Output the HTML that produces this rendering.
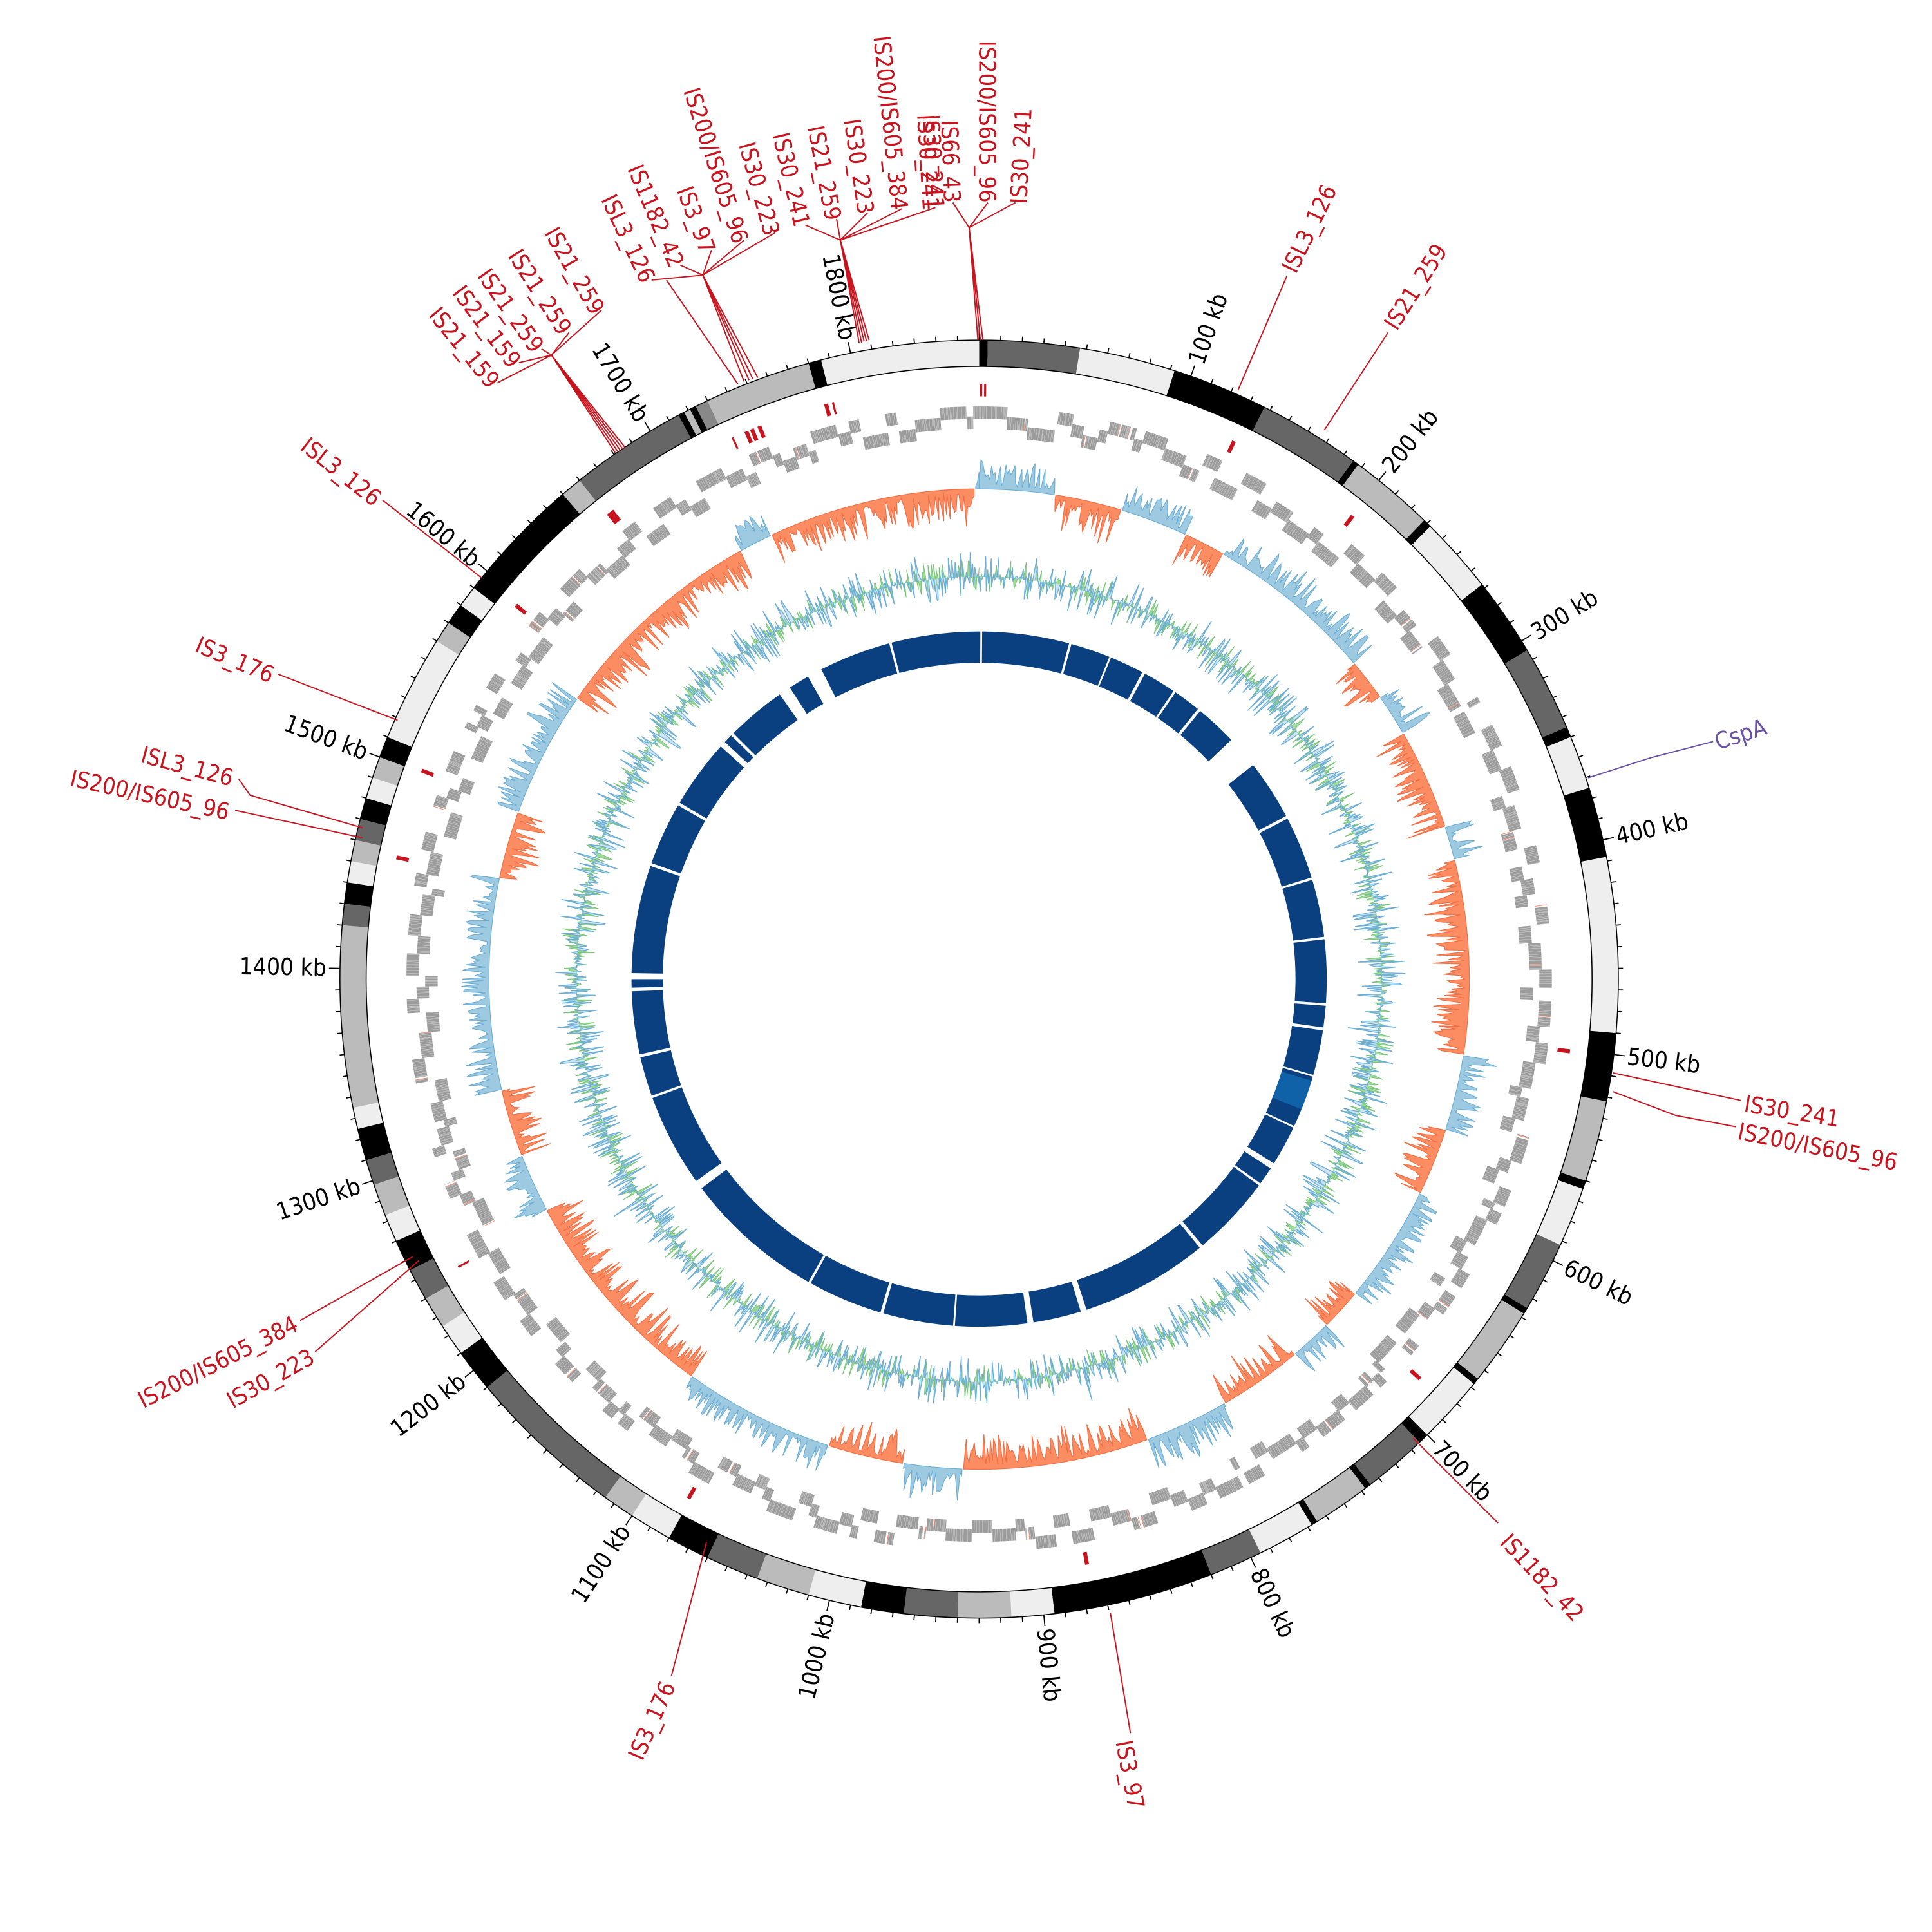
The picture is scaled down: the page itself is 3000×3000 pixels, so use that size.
<!DOCTYPE html>
<html><head><meta charset="utf-8"><style>
html,body{margin:0;padding:0;background:#fff}
svg{display:block}
.t{font-family:"DejaVu Sans Condensed","DejaVu Sans","Liberation Sans",sans-serif;font-size:19px;fill:#000}
.r{font-family:"DejaVu Sans Condensed","DejaVu Sans","Liberation Sans",sans-serif;font-size:18.5px;fill:#c8141e}
.p{font-family:"DejaVu Sans Condensed","DejaVu Sans","Liberation Sans",sans-serif;font-size:18.5px;fill:#6a51a3}
</style></head><body>
<svg id="s" width="3000" height="3000" viewBox="0 0 1545 1545" xmlns="http://www.w3.org/2000/svg">
<g id="tracks"></g>
<g class="t" dominant-baseline="central">
<text x="1305" y="783" transform="rotate(-70.6 783 783)">100 kb</text>
<text x="1305" y="783" transform="rotate(-51.3 783 783)">200 kb</text>
<text x="1305" y="783" transform="rotate(-31.9 783 783)">300 kb</text>
<text x="1305" y="783" transform="rotate(-12.6 783 783)">400 kb</text>
<text x="1305" y="783" transform="rotate(6.8 783 783)">500 kb</text>
<text x="1305" y="783" transform="rotate(26.1 783 783)">600 kb</text>
<text x="1305" y="783" transform="rotate(45.5 783 783)">700 kb</text>
<text x="1305" y="783" transform="rotate(64.8 783 783)">800 kb</text>
<text x="1305" y="783" transform="rotate(84.2 783 783)">900 kb</text>
<text x="261" y="783" text-anchor="end" transform="rotate(-76.5 783 783)">1000 kb</text>
<text x="261" y="783" text-anchor="end" transform="rotate(-57.1 783 783)">1100 kb</text>
<text x="261" y="783" text-anchor="end" transform="rotate(-37.7 783 783)">1200 kb</text>
<text x="261" y="783" text-anchor="end" transform="rotate(-18.4 783 783)">1300 kb</text>
<text x="261" y="783" text-anchor="end" transform="rotate(1.0 783 783)">1400 kb</text>
<text x="261" y="783" text-anchor="end" transform="rotate(20.3 783 783)">1500 kb</text>
<text x="261" y="783" text-anchor="end" transform="rotate(39.7 783 783)">1600 kb</text>
<text x="261" y="783" text-anchor="end" transform="rotate(59.0 783 783)">1700 kb</text>
<text x="261" y="783" text-anchor="end" transform="rotate(78.4 783 783)">1800 kb</text>
</g>
<g stroke="#c8141e" stroke-width="1" fill="none">
<polyline points="1029,221 990,312"/>
<polyline points="1110,266 1059,344"/>
<polyline points="1392,880 1290,858"/>
<polyline points="1388,901 1340,892 1290,873"/>
<polyline points="1198,1218 1130,1150"/>
<polyline points="904,1386 888,1290"/>
<polyline points="537,1340 565,1233"/>
<polyline points="240,1056 330,1005"/>
<polyline points="252,1081 335,1008"/>
<polyline points="188,648 290,670"/>
<polyline points="191,623 200,636 290,662"/>
<polyline points="222,539 318,576"/>
<polyline points="306,400 385,462"/>
<polyline points="398,306 441,284"/><polyline points="415,290 441,284"/><polyline points="433,279 441,284"/><polyline points="455,266 441,284"/><polyline points="481,248 441,284"/>
<polyline points="441,284 492,362"/><polyline points="441,284 494,361"/><polyline points="441,284 496,360"/><polyline points="441,284 498,359"/><polyline points="441,284 500,358"/>
<polyline points="521,224 562,220"/><polyline points="544,212 562,220"/><polyline points="569,200 562,220"/><polyline points="595,192 562,220"/><polyline points="620,186 562,220"/>
<polyline points="533,224 590,307"/><polyline points="562,220 595,305"/><polyline points="562,220 599,304"/><polyline points="562,220 602,303"/><polyline points="562,220 606,302"/>
<polyline points="644,180 672,192"/><polyline points="669,175 672,192"/><polyline points="694,170 672,192"/><polyline points="721,167 672,192"/><polyline points="748,166 672,192"/>
<polyline points="672,192 687,274"/><polyline points="672,192 689,274"/><polyline points="672,192 691,273"/><polyline points="672,192 693,273"/><polyline points="672,192 695,272"/>
<polyline points="762,162 775,182"/><polyline points="790,162 775,182"/><polyline points="812,162 775,182"/>
<polyline points="775,182 782,272"/><polyline points="775,182 784,272"/><polyline points="775,182 786,272"/>
</g>
<polyline points="1270,622 1320,606 1370,593" stroke="#6a51a3" stroke-width="1" fill="none"/>
<g class="r" dominant-baseline="central">
<text transform="translate(1031,217) rotate(-64)">ISL3_126</text>
<text transform="translate(1112,262) rotate(-57.7)">IS21_259</text>
<text transform="translate(1395,883) rotate(9.2)">IS30_241</text>
<text transform="translate(1390,905) rotate(11.2)">IS200/IS605_96</text>
<text transform="translate(1203,1230) rotate(46.8)">IS1182_42</text>
<text transform="translate(898,1392) rotate(79.3)">IS3_97</text>
<text text-anchor="end" transform="translate(535,1346) rotate(-66.2)">IS3_176</text>
<text text-anchor="end" transform="translate(237,1058) rotate(-26.8)">IS200/IS605_384</text>
<text text-anchor="end" transform="translate(250,1084) rotate(-29.4)">IS30_223</text>
<text text-anchor="end" transform="translate(183,650) rotate(12.3)">IS200/IS605_96</text>
<text text-anchor="end" transform="translate(186,623) rotate(14.9)">ISL3_126</text>
<text text-anchor="end" transform="translate(218,541) rotate(23)">IS3_176</text>
<text text-anchor="end" transform="translate(302,401) rotate(38.3)">ISL3_126</text>
<text text-anchor="end" transform="translate(395,308) rotate(50.8)">IS21_159</text>
<text text-anchor="end" transform="translate(412,292) rotate(52.9)">IS21_159</text>
<text text-anchor="end" transform="translate(430,280) rotate(54.9)">IS21_259</text>
<text text-anchor="end" transform="translate(452,266) rotate(57.4)">IS21_259</text>
<text text-anchor="end" transform="translate(478,250) rotate(60.2)">IS21_259</text>
<text text-anchor="end" transform="translate(518,225) rotate(64.6)">ISL3_126</text>
<text text-anchor="end" transform="translate(541,213) rotate(67)">IS1182_42</text>
<text text-anchor="end" transform="translate(566,202) rotate(69.5)">IS3_97</text>
<text text-anchor="end" transform="translate(592,194) rotate(72)">IS200/IS605_96</text>
<text text-anchor="end" transform="translate(617,188) rotate(74.4)">IS30_223</text>
<text text-anchor="end" transform="translate(641,181) rotate(76.7)">IS30_241</text>
<text text-anchor="end" transform="translate(666,176) rotate(79.1)">IS21_259</text>
<text text-anchor="end" transform="translate(692,171) rotate(81.5)">IS30_223</text>
<text text-anchor="end" transform="translate(719,168) rotate(84)">IS200/IS605_384</text>
<text text-anchor="end" transform="translate(744,168) rotate(86.5)">IS30_241</text>
<text text-anchor="end" transform="translate(748,168) rotate(86.8)">IS30_241</text>
<text text-anchor="end" transform="translate(761,162) rotate(87.9)">IS66_43</text>
<text text-anchor="end" transform="translate(789,162) rotate(90)">IS200/IS605_96</text>
<text transform="translate(815,163) rotate(-87)">IS30_241</text>
</g>
<text class="p" dominant-baseline="central" transform="translate(1372,594) rotate(-17.6)">CspA</text>
</svg>
<script>
(function(){
var NS="http://www.w3.org/2000/svg",C=783,L=1860;
var g=document.getElementById("tracks");
function A(k){return k*360/L;}
function pt(r,a){var t=a*Math.PI/180;return [C+r*Math.sin(t),C-r*Math.cos(t)];}
function f(p){return p[0].toFixed(2)+","+p[1].toFixed(2);}
function seg(a1,a2,r1,r2){var p1=pt(r2,a1),p2=pt(r2,a2),p3=pt(r1,a2),p4=pt(r1,a1),l=(a2-a1)>180?1:0;
return "M"+f(p1)+"A"+r2+","+r2+" 0 "+l+" 1 "+f(p2)+"L"+f(p3)+"A"+r1+","+r1+" 0 "+l+" 0 "+f(p4)+"Z";}
function circ(r){var a=pt(r,0),b=pt(r,180);return "M"+f(a)+"A"+r+","+r+" 0 1 1 "+f(b)+"A"+r+","+r+" 0 1 1 "+f(a)+"Z";}
function path(d,attrs){var e=document.createElementNS(NS,"path");e.setAttribute("d",d);for(var k in attrs)e.setAttribute(k,attrs[k]);g.appendChild(e);return e;}
var s=12345;function R(){s|=0;s=s+0x6D2B79F5|0;var t=Math.imul(s^s>>>15,1|s);t=t+Math.imul(t^t>>>7,61|t)^t;return((t^t>>>14)>>>0)/4294967296;}
var B=[[0,4,'#000'],[4,47,'#666'],[47,92,'#eee'],[92,137,'#000'],[137,185,'#666'],[185,188,'#000'],[188,228,'#bbb'],[228,232,'#000'],[232,268,'#eee'],[268,305,'#000'],[305,345,'#666'],[345,350,'#000'],[350,375,'#eee'],[375,408,'#000'],[408,490,'#eee'],[490,522,'#000'],[522,560,'#bbb'],[560,564,'#000'],[564,592,'#eee'],[592,625,'#666'],[625,628,'#000'],[628,665,'#bbb'],[665,668,'#000'],[668,700,'#eee'],[700,705,'#000'],[705,735,'#666'],[735,738,'#000'],[738,765,'#bbb'],[765,768,'#000'],[768,795,'#eee'],[795,820,'#666'],[820,895,'#000'],[895,915,'#eee'],[915,940,'#bbb'],[940,965,'#666'],[965,985,'#000'],[985,1010,'#eee'],[1010,1035,'#bbb'],[1035,1060,'#666'],[1060,1080,'#000'],[1080,1100,'#eee'],[1100,1115,'#bbb'],[1115,1190,'#666'],[1190,1210,'#000'],[1210,1225,'#eee'],[1225,1240,'#bbb'],[1240,1255,'#666'],[1255,1270,'#000'],[1270,1283,'#eee'],[1283,1298,'#bbb'],[1298,1310,'#666'],[1310,1325,'#000'],[1325,1335,'#eee'],[1335,1420,'#bbb'],[1420,1430,'#666'],[1430,1440,'#000'],[1440,1450,'#eee'],[1450,1460,'#bbb'],[1460,1470,'#666'],[1470,1480,'#000'],[1480,1490,'#eee'],[1490,1500,'#bbb'],[1500,1510,'#000'],[1510,1560,'#eee'],[1560,1570,'#bbb'],[1570,1580,'#000'],[1580,1590,'#eee'],[1590,1650,'#000'],[1650,1660,'#bbb'],[1660,1715,'#666'],[1715,1718,'#000'],[1718,1721,'#bbb'],[1721,1724,'#000'],[1724,1730,'#888'],[1730,1780,'#bbb'],[1780,1786,'#000'],[1786,1860,'#eee']];
B.forEach(function(b){path(seg(A(b[0]),A(b[1]),490,511),{fill:b[2]});});
path(circ(511),{fill:"none",stroke:"#000","stroke-width":"0.8"});
path(circ(490),{fill:"none",stroke:"#000","stroke-width":"0.8"});
var d="";for(var k=0;k<L;k+=10){var len=(k%100==0)?9:4;d+="M"+f(pt(511,A(k)))+"L"+f(pt(511+len,A(k)));}
path(d,{stroke:"#000","stroke-width":"0.9",fill:"none"});
var IS=[[0.5,1],[2.5,1],[1782,2],[1786,1],[1740,2],[1743,2],[1747,2],[1733,1],[1660,4],[1595,2],[1500,2],[1455,2],[1245,1],[1080,2],[875,2],[682,2],[500,2],[130,2],[200,2]];
d="";IS.forEach(function(m){d+=seg(A(m[0]),A(m[0]+m[1]),466,476);});path(d,{fill:"#c8141e"});
var lanes=[[448,458],[440,450],[433,443]];
var dG="",dR="";
var pos=0,lane=0;
while(pos<L){var blk=3+R()*12;var end=Math.min(L,pos+blk);
 var r1=lanes[lane][0],r2=lanes[lane][1];
 while(pos<end){var gl=0.25+R()*1.2;var e=Math.min(end,pos+gl);
  if(R()<0.02)dR+=seg(A(pos),A(pos+0.25),r1,r2);else dG+=seg(A(pos),A(e-0.06),r1,r2);
  pos=e+0.03;}
 if(R()<0.04)pos+=R()*2;
 var nl=Math.floor(R()*3);lane=(nl==lane)?(lane+1)%3:nl;}
path(dG,{fill:"#9d9d9d"});path(dR,{fill:"#fb6a4a"});
var SEG=[[0,9,1],[9,17,-1],[17,25,1],[25,30,-1],[30,50,1],[50,55,-1],[55,60,1],[60,72,-1],[72,76,1],[76,99,-1],[99,108,1],[108,116,-1],[116,130,1],[130,135,-1],[135,140,1],[140,150,-1],[150,160,1],[160,182,-1],[182,189,1],[189,198,-1],[198,216,1],[216,242,-1],[242,249,1],[249,257,-1],[257,282,1],[282,290,-1],[290,305,1],[305,331,-1],[331,335,1],[335,359.5,-1],[359.5,360,1]];
function sgn(a){for(var i=0;i<SEG.length;i++)if(a>=SEG[i][0]&&a<SEG[i][1])return SEG[i][2];return 1;}
var base=392,N=1800,vals=[];var sm=0.5;
for(var i=0;i<=N;i++){sm=0.85*sm+0.15*R();var v=(0.1+0.9*Math.pow(R(),1.6))*(0.3+1.2*sm);vals.push(Math.min(1.3,v));}
function area(sign,rb,amp,col,st){var dd="",pts=[];
 function flush(){if(pts.length<2){pts=[];return;}var s1=pts[0][0],s2=pts[pts.length-1][0];var q="";pts.forEach(function(p,j){q+=(j?"L":"M")+f(pt(p[1],p[0]));});q+="L"+f(pt(rb,s2))+"A"+rb+","+rb+" 0 0 0 "+f(pt(rb,s1))+"Z";dd+=q;pts=[];}
 for(var i=0;i<=N;i++){var a=i*360/N;if(sgn(a)==sign){pts.push([a,rb+sign*amp*vals[i]]);}else flush();}
 flush();path(dd,{fill:col,stroke:st,"stroke-width":"0.6"});}
area(1,base,26,"#9ecae1","#6baed6");area(-1,base,32,"#fc8d62","#f46d43");
var b2=322,N2=2400,ptsG=[],ptsB=[];
for(var i=0;i<=N2;i++){var a=i*360/N2;var vg=(R()-0.5)*2;vg=vg*Math.abs(vg)*Math.abs(vg)*14;var vb=(R()-0.5)*2;vb=vb*Math.abs(vb)*Math.abs(vb)*20;if(R()<0.02)vb*=1.6;ptsG.push(pt(b2+vg,a));ptsB.push(pt(b2+vb,a));}
var q="";ptsG.forEach(function(p,j){q+=(j?"L":"M")+f(p);});
path(q+"Z"+circ(b2),{fill:"#a1d99b",stroke:"none","fill-rule":"evenodd"});
path(q,{fill:"none",stroke:"#74c476","stroke-width":"0.5"});
q="";ptsB.forEach(function(p,j){q+=(j?"L":"M")+f(p);});
path(q+"Z"+circ(b2),{fill:"#9ecae1","fill-opacity":"0.5",stroke:"none","fill-rule":"evenodd"});
path(q,{fill:"none",stroke:"#6baed6","stroke-width":"0.7"});
var gaps=[[0.2,0.5],[46.5,52],[325,327],[330.5,333],[312,313],[314.5,315],[270,271],[268,268.6],[257,257.5],[233,234.5],[196,196.5],[171,172],[162,163],[140,140.6],[126,126.4],[122,123],[98,98.5],[94,94.4],[83,83.4],[62,62.5],[39,39.5],[34,34.4],[28,28.5],[22,22.3],[15,15.4],[345,345.4],[300,300.5],[289,289.5],[250,250.4],[209,209.4],[184,184.3],[115,115.3],[106,106.3],[73,73.4]];
gaps.sort(function(x,y){return x[0]-y[0];});
var st=0.5;d="";gaps.slice(1).forEach(function(gp){d+=seg(st,gp[0],253,278);st=gp[1];});d+=seg(st,360.2,253,278);
path(d,{fill:"#0a3f80"});
path(seg(107,112,253,278),{fill:"#0f62a8"});
})();
</script>
</body></html>
